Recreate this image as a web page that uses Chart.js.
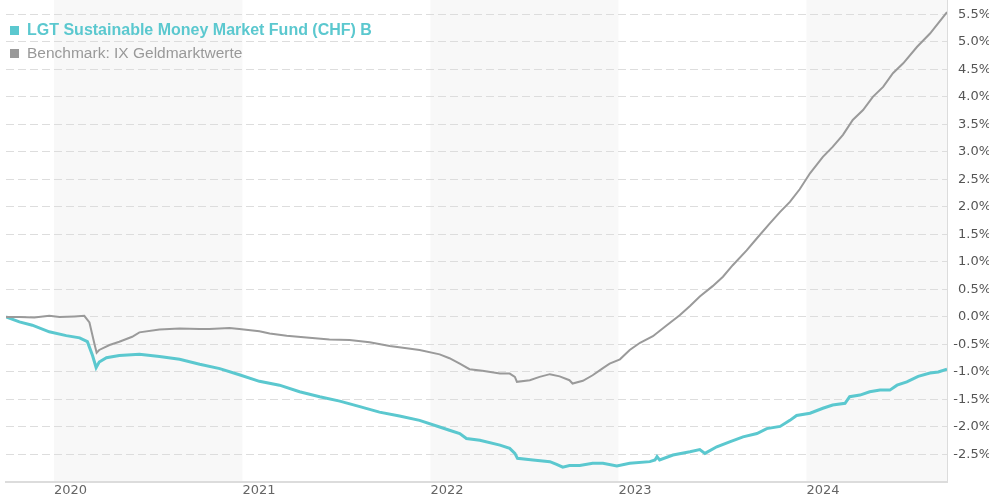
<!DOCTYPE html>
<html>
<head>
<meta charset="utf-8">
<script src="https://cdn.jsdelivr.net/npm/chart.js@4.4.1/dist/chart.umd.min.js"></script>
<style>
  html, body { margin: 0; padding: 0; background: #fff; overflow: hidden; }
  #wrap { position: relative; width: 991px; height: 500px; }
</style>
</head>
<body>
<div id="wrap"><canvas id="c"></canvas></div>
<script>
// ---------- data ----------
const fundLabel = 'LGT Sustainable Money Market Fund (CHF) B';
const benchLabel = 'Benchmark: IX Geldmarktwerte';

const fundDates = [
  '2019-09-30','2019-10-26','2019-11-20','2019-12-23','2020-01-25','2020-02-20','2020-03-06','2020-03-16',
  '2020-03-23','2020-03-29','2020-04-12','2020-05-07','2020-06-15','2020-07-24','2020-09-01','2020-10-10',
  '2020-11-18','2020-12-26','2021-02-03','2021-03-14','2021-04-22','2021-05-31','2021-07-09','2021-08-17',
  '2021-09-24','2021-11-02','2021-12-11','2022-01-19','2022-02-07','2022-02-27','2022-03-12','2022-04-07',
  '2022-05-16','2022-06-04','2022-06-14','2022-06-19','2022-07-19','2022-08-21','2022-09-03','2022-09-15',
  '2022-09-28','2022-10-18','2022-11-12','2022-12-02','2022-12-29','2023-01-23','2023-03-03','2023-03-13',
  '2023-03-17','2023-03-22','2023-04-17','2023-05-20','2023-06-08','2023-06-18','2023-07-11','2023-08-05',
  '2023-08-31','2023-09-27','2023-10-16','2023-11-11','2023-11-30','2023-12-13','2024-01-08','2024-02-02',
  '2024-02-21','2024-03-16','2024-03-25','2024-04-14','2024-05-03','2024-05-23','2024-06-11','2024-06-25',
  '2024-07-14','2024-08-05','2024-08-28','2024-09-13','2024-09-30'
];
const fundValues = [
  0.00,-0.09,-0.15,-0.27,-0.34,-0.38,-0.45,-0.70,
  -0.92,-0.82,-0.74,-0.70,-0.68,-0.72,-0.77,-0.86,
  -0.94,-1.05,-1.17,-1.24,-1.36,-1.45,-1.53,-1.63,
  -1.73,-1.80,-1.88,-2.00,-2.06,-2.12,-2.21,-2.24,
  -2.33,-2.39,-2.48,-2.57,-2.60,-2.63,-2.68,-2.73,
  -2.70,-2.70,-2.66,-2.66,-2.71,-2.66,-2.63,-2.60,
  -2.54,-2.60,-2.51,-2.45,-2.41,-2.48,-2.36,-2.27,
  -2.18,-2.12,-2.03,-1.99,-1.88,-1.79,-1.75,-1.66,
  -1.60,-1.57,-1.45,-1.42,-1.36,-1.33,-1.33,-1.24,
  -1.18,-1.08,-1.02,-1.00,-0.95
];

const benchDates = [
  '2019-09-30','2019-10-26','2019-11-24','2019-12-23','2020-01-12','2020-02-10','2020-02-29','2020-03-10',
  '2020-03-20','2020-03-24','2020-03-29','2020-04-18','2020-05-07','2020-06-01','2020-06-15','2020-07-24',
  '2020-09-01','2020-10-10','2020-10-29','2020-12-07','2020-12-26','2021-02-03','2021-02-23','2021-03-28',
  '2021-05-11','2021-06-19','2021-07-28','2021-09-05','2021-10-14','2021-11-16','2021-12-11','2022-01-19',
  '2022-02-07','2022-02-27','2022-03-18','2022-04-12','2022-05-16','2022-06-04','2022-06-14','2022-06-18',
  '2022-07-13','2022-08-01','2022-08-21','2022-09-09','2022-09-28','2022-10-04','2022-10-24','2022-11-12',
  '2022-12-02','2022-12-15','2023-01-04','2023-01-23','2023-02-12','2023-03-09','2023-04-05','2023-04-30',
  '2023-05-20','2023-06-08','2023-07-03','2023-07-23','2023-08-11','2023-09-07','2023-09-27','2023-10-22',
  '2023-11-11','2023-11-30','2023-12-19','2024-01-08','2024-02-02','2024-02-21','2024-03-12','2024-03-31',
  '2024-04-20','2024-05-09','2024-05-29','2024-06-17','2024-07-07','2024-08-03','2024-08-28','2024-09-30'
];
const benchValues = [
  0.00,0.00,-0.01,0.02,0.00,0.01,0.02,-0.10,
  -0.50,-0.65,-0.60,-0.51,-0.45,-0.36,-0.28,-0.23,
  -0.21,-0.22,-0.22,-0.20,-0.22,-0.26,-0.30,-0.34,
  -0.38,-0.41,-0.42,-0.46,-0.53,-0.57,-0.60,-0.68,
  -0.75,-0.85,-0.95,-0.98,-1.03,-1.03,-1.09,-1.18,
  -1.15,-1.09,-1.04,-1.08,-1.15,-1.21,-1.16,-1.06,
  -0.93,-0.85,-0.77,-0.60,-0.47,-0.35,-0.15,0.03,
  0.20,0.37,0.56,0.73,0.94,1.21,1.43,1.70,
  1.91,2.09,2.32,2.61,2.91,3.09,3.31,3.58,
  3.76,4.00,4.18,4.43,4.61,4.91,5.15,5.54
];

const yearTicks = [2020, 2021, 2022, 2023, 2024];
const shadedYears = [2020, 2022, 2024];
const yTicks = [-2.5,-2.0,-1.5,-1.0,-0.5,0.0,0.5,1.0,1.5,2.0,2.5,3.0,3.5,4.0,4.5,5.0,5.5];

// ---------- helpers ----------
const toMs = d => Date.parse(d + 'T00:00:00Z');
const yearMs = y => Date.UTC(y, 0, 1);
const pts = (dates, vals) => dates.map((d, i) => ({ x: toMs(d), y: vals[i] }));

const TEAL = '#5bc8cf';
const GREY = '#9a9a9a';

const bandsPlugin = {
  id: 'bands',
  beforeDraw(chart) {
    const { ctx, chartArea: a, scales: { x } } = chart;
    ctx.save();
    ctx.fillStyle = '#f8f8f8';
    shadedYears.forEach(y => {
      let x0 = Math.max(a.left, x.getPixelForValue(yearMs(y)));
      let x1 = Math.min(a.right, x.getPixelForValue(yearMs(y + 1)));
      if (x1 > x0) ctx.fillRect(x0, a.top, x1 - x0, a.bottom - a.top);
    });
    ctx.restore();
  }
};

const legendPlugin = {
  id: 'legendText',
  afterDraw(chart) {
    const { ctx } = chart;
    const ds = chart.data.datasets;
    ctx.save();
    ctx.textBaseline = 'alphabetic';
    ctx.textAlign = 'left';
    ctx.fillStyle = TEAL;
    ctx.fillRect(10, 26, 9, 9);
    ctx.font = 'bold 16px "Liberation Sans", Arial, sans-serif';
    ctx.fillText(ds[0].label, 27, 35);
    ctx.fillStyle = '#999999';
    ctx.fillRect(10, 49, 9, 9);
    ctx.font = '15.5px "Liberation Sans", Arial, sans-serif';
    ctx.fillText(ds[1].label, 27, 58);
    ctx.restore();
  }
};

new Chart(document.getElementById('c'), {
  type: 'line',
  data: {
    datasets: [
      { label: fundLabel, data: pts(fundDates, fundValues), borderColor: TEAL, borderWidth: 3,
        pointRadius: 0, tension: 0, fill: false, order: 2 },
      { label: benchLabel, data: pts(benchDates, benchValues), borderColor: GREY, borderWidth: 2,
        pointRadius: 0, tension: 0, fill: false, order: 1 }
    ]
  },
  options: {
    responsive: true,
    maintainAspectRatio: false,
    animation: false,
    devicePixelRatio: 1,
    layout: { padding: { left: 6, top: 0, right: 0, bottom: 0 } },
    plugins: { legend: { display: false }, tooltip: { enabled: false } },
    scales: {
      x: {
        type: 'linear',
        min: toMs(fundDates[0]),
        max: toMs(fundDates[fundDates.length - 1]),
        afterBuildTicks: s => { s.ticks = yearTicks.map(y => ({ value: yearMs(y) })); },
        afterFit: s => { s.height = 18; s.paddingLeft = 0; s.paddingRight = 0; },
        grid: { display: false, drawTicks: false },
        border: { display: true, color: '#dcdcdc', width: 2 },
        ticks: {
          autoSkip: false, maxRotation: 0, align: 'start', padding: 1,
          color: '#666', font: { family: '"DejaVu Sans", Verdana, sans-serif', size: 13 },
          callback: v => String(new Date(v).getUTCFullYear())
        }
      },
      y: {
        type: 'linear',
        position: 'right',
        min: -3.0,
        max: 5.76,
        afterBuildTicks: s => { s.ticks = yTicks.map(v => ({ value: v })); },
        afterFit: s => { s.width = 44; s.paddingTop = 0; s.paddingBottom = 0; },
        grid: { color: '#dddddd', lineWidth: 1, drawTicks: false },
        border: { display: true, color: '#dcdcdc', width: 1, dash: [8, 4] },
        ticks: {
          padding: 6, crossAlign: 'far',
          color: '#555', font: { family: '"DejaVu Sans", Verdana, sans-serif', size: 13 },
          callback: v => v.toFixed(1) + '%'
        }
      }
    }
  },
  plugins: [bandsPlugin, legendPlugin]
});
</script>
</body>
</html>
